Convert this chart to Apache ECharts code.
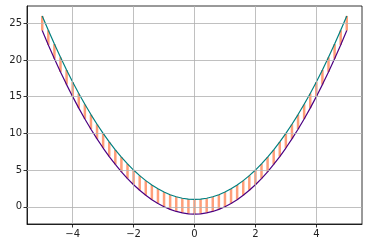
<!DOCTYPE html>
<html><head><meta charset="utf-8">
<script src="https://cdn.jsdelivr.net/npm/echarts@6/dist/echarts.min.js"></script>
<style>html,body{margin:0;padding:0;background:#fff}#c{width:368px;height:248px}</style>
</head><body><div id="c"></div>
<script>
const xs = [-5,-4.8,-4.6,-4.4,-4.2,-4,-3.8,-3.6,-3.4,-3.2,-3,-2.8,-2.6,-2.4,-2.2,-2,-1.8,-1.6,-1.4,-1.2,-1,-0.8,-0.6,-0.4,-0.2,0,0.2,0.4,0.6,0.8,1,1.2,1.4,1.6,1.8,2,2.2,2.4,2.6,2.8,3,3.2,3.4,3.6,3.8,4,4.2,4.4,4.6,4.8,5];
const upper = [26,24.04,22.16,20.36,18.64,17,15.44,13.96,12.56,11.24,10,8.84,7.76,6.76,5.84,5,4.24,3.56,2.96,2.44,2,1.64,1.36,1.16,1.04,1,1.04,1.16,1.36,1.64,2,2.44,2.96,3.56,4.24,5,5.84,6.76,7.76,8.84,10,11.24,12.56,13.96,15.44,17,18.64,20.36,22.16,24.04,26];
const lower = [24,22.04,20.16,18.36,16.64,15,13.44,11.96,10.56,9.24,8,6.84,5.76,4.76,3.84,3,2.24,1.56,0.96,0.44,0,-0.36,-0.64,-0.84,-0.96,-1,-0.96,-0.84,-0.64,-0.36,0,0.44,0.96,1.56,2.24,3,3.84,4.76,5.76,6.84,8,9.24,10.56,11.96,13.44,15,16.64,18.36,20.16,22.04,24];
const xTicks = [-4,-2,0,2,4];
const yTicks = [0,5,10,15,20,25];

const chart = echarts.init(document.getElementById('c'), null, {renderer:'canvas'});
const fmt = v => (v < 0 ? '\u2212' + Math.abs(v) : String(v));
const tickStyle = {show:true,inside:false,length:3.5,lineStyle:{color:'#000',width:0.8}};
const labelStyle = {color:'#222',fontFamily:'DejaVu Sans',fontSize:10,margin:5,formatter:fmt};
chart.setOption({
  animation:false,
  grid:{left:27,right:6,top:6,bottom:24,containLabel:false,show:true,borderColor:'#000',borderWidth:0.8},
  xAxis:{type:'value',min:-5.5,max:5.5,
    axisLine:{show:true,onZero:false,lineStyle:{color:'#000',width:0.8}},
    axisTick:Object.assign({},tickStyle,{customValues:xTicks}),
    axisLabel:Object.assign({},labelStyle,{customValues:xTicks}),
    splitLine:{show:false}},
  yAxis:{type:'value',min:-2.35,max:27.35,
    axisLine:{show:true,onZero:false,lineStyle:{color:'#000',width:0.8}},
    axisTick:Object.assign({},tickStyle,{customValues:yTicks}),
    axisLabel:Object.assign({},labelStyle,{customValues:yTicks}),
    splitLine:{show:false}},
  series:[
    {type:'line',z:0,data:[],silent:true,
     markLine:{silent:true,symbol:'none',animation:false,label:{show:false},
       lineStyle:{color:'#b0b0b0',width:0.8,type:'solid'},
       data:xTicks.map(v=>({xAxis:v})).concat(yTicks.map(v=>({yAxis:v})))}},
    {type:'custom',z:1,
     data:xs.map((x,i)=>[x,lower[i],upper[i]]),
     encode:{x:0,y:[1,2]},
     renderItem:(params,api)=>{
       const p1 = api.coord([api.value(0),api.value(1)]);
       const p2 = api.coord([api.value(0),api.value(2)]);
       return {type:'line',shape:{x1:p1[0],y1:p1[1],x2:p1[0],y2:p2[1]},style:{stroke:'#ff9f7a',lineWidth:2.5}};
     }},
    {type:'line',z:2,showSymbol:false,data:xs.map((x,i)=>[x,lower[i]]),lineStyle:{color:'#4b0082',width:1.2},itemStyle:{color:'#4b0082'}},
    {type:'line',z:3,showSymbol:false,data:xs.map((x,i)=>[x,upper[i]]),lineStyle:{color:'#008080',width:1.2},itemStyle:{color:'#008080'}}
  ]
});
</script></body></html>
